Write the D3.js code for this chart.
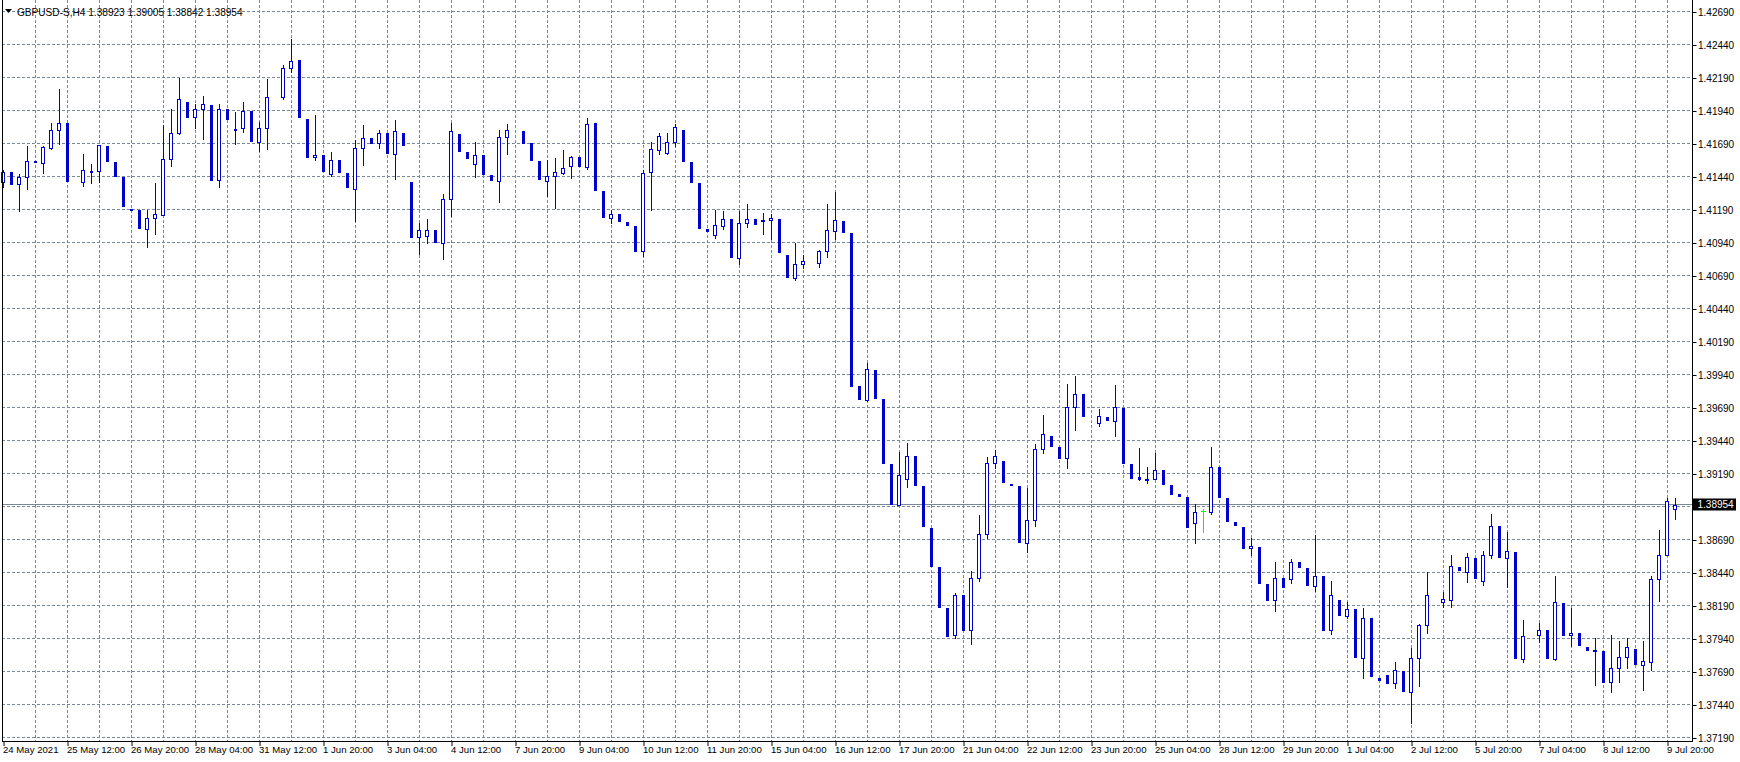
<!DOCTYPE html>
<html><head><meta charset="utf-8">
<script src="https://cdn.jsdelivr.net/npm/d3@7"></script>
<style>html,body{margin:0;padding:0;background:#fff;overflow:hidden}
text{font-family:"Liberation Sans",Arial,sans-serif}</style>
</head><body>
<svg id="chart" width="1740" height="762"></svg>
<script>
const titleText = "GBPUSD-S,H4  1.38923 1.39005 1.38842 1.38954";
const opens = [
1.41400,1.41471,1.41380,1.41433,1.41556,1.41539,1.41658,1.41796,1.41844,null,
1.41395,1.41485,1.41483,1.41670,1.41549,1.41435,1.41196,1.41185,1.41046,1.41122,
1.41152,1.41569,1.41766,1.42003,1.41892,1.41948,1.41981,1.41410,1.41950,1.41801,
1.41811,1.41935,1.41705,1.41804,null,1.42043,1.42263,1.42321,1.41879,1.41584,
1.41601,1.41462,1.41563,1.41465,1.41349,1.41659,1.41728,1.41690,1.41768,1.41614,
1.41768,1.41397,1.40978,1.40993,1.41031,1.40937,1.41266,1.41765,1.41624,1.41531,
1.41601,1.41450,1.41409,1.41743,null,1.41783,1.41694,1.41556,1.41409,1.41440,
1.41470,1.41516,1.41585,1.41514,1.41846,1.41329,1.41126,1.41154,1.41094,1.41063,
1.40873,1.41475,1.41642,1.41619,1.41705,1.41796,1.41548,1.41389,1.41040,1.40998,
1.41068,1.41115,1.40823,1.41084,1.41115,1.41107,1.41107,1.41120,1.40849,1.40672,
1.40774,null,1.40781,1.40873,1.41024,1.41102,1.41011,1.39853,1.39748,1.39973,
1.39753,1.39261,1.38955,1.39152,1.39326,1.39094,1.38776,1.38480,1.38172,1.37963,
1.38268,1.38001,1.38402,1.38735,1.39273,1.39283,1.39114,1.39094,1.38667,1.38834,
1.39379,1.39473,1.39389,1.39304,1.39690,1.39791,null,1.39576,1.39617,1.39591,
1.39685,1.39261,1.39162,1.39137,1.39152,1.39215,1.39101,1.39032,1.39010,1.38816,
1.38900,1.38899,1.39237,1.39003,1.38821,1.38783,1.38622,1.38632,1.38352,1.38228,
1.38395,1.38387,1.38518,1.38473,1.38334,1.38412,1.38001,1.38230,1.38112,1.38162,
1.37796,1.38094,1.37640,1.37662,1.37604,1.37693,1.37536,1.37796,1.38039,null,
1.38220,1.38230,1.38483,1.38447,1.38553,1.38372,1.38574,1.38791,1.38553,1.38596,
1.37788,null,1.37963,1.38003,1.37783,1.38208,1.37963,1.37980,1.37879,1.37846,
1.37844,1.37607,1.37720,1.37801,1.37859,1.37743,1.37763,1.38394,1.38574,1.38923];
const highs = [
1.41493,1.41471,1.41458,1.41670,1.41556,1.41670,1.41844,1.42102,1.41844,null,
1.41609,1.41534,1.41675,1.41670,1.41549,1.41435,1.41196,1.41185,1.41185,1.41387,
1.41829,1.41950,1.42188,1.42003,1.41986,1.42049,1.41981,1.41986,1.41950,1.41928,
1.42003,1.41935,1.41854,1.42178,null,1.42283,1.42480,1.42321,1.41879,1.41909,
1.41601,1.41624,1.41563,1.41465,1.41715,1.41829,1.41728,1.41791,1.41768,1.41866,
1.41768,1.41397,1.41084,1.41117,1.41031,1.41311,1.41849,1.41765,1.41624,1.41700,
1.41601,1.41450,1.41796,1.41841,null,1.41783,1.41694,1.41556,1.41566,1.41579,
1.41639,1.41596,1.41585,1.41880,1.41846,1.41329,1.41183,1.41154,1.41094,1.41063,
1.41491,1.41705,1.41773,1.41773,1.41835,1.41796,1.41548,1.41389,1.41040,1.41183,
1.41175,1.41115,1.41175,1.41230,1.41115,1.41162,1.41157,1.41120,1.40849,1.40940,
1.40849,null,1.40886,1.41230,1.41324,1.41102,1.41011,1.39853,1.40025,1.39973,
1.39753,1.39261,1.39352,1.39420,1.39326,1.39094,1.38776,1.38480,1.38172,1.38286,
1.38268,1.38450,1.38874,1.39314,1.39367,1.39283,1.39114,1.39094,1.39081,1.39412,
1.39632,1.39473,1.39389,1.39867,1.39927,1.39791,null,1.39682,1.39617,1.39859,
1.39685,1.39261,1.39382,1.39238,1.39349,1.39215,1.39101,1.39032,1.39010,1.38957,
1.38924,1.39389,1.39237,1.39003,1.38821,1.38783,1.38705,1.38632,1.38352,1.38518,
1.38395,1.38539,1.38518,1.38473,1.38723,1.38412,1.38374,1.38230,1.38213,1.38162,
1.38170,1.38094,1.37640,1.37662,1.37761,1.37693,1.37869,1.38049,1.38443,null,
1.38291,1.38571,1.38483,1.38584,1.38553,1.38604,1.38884,1.38791,1.38748,1.38596,
1.38079,null,1.38059,1.38003,1.38412,1.38208,1.38170,1.37980,1.37879,1.37940,
1.37844,1.37965,1.37920,1.37940,1.37859,1.37920,1.38412,1.38760,1.39003,1.39005];
const lows = [
1.41357,1.41380,1.41180,1.41342,1.41552,1.41468,1.41645,1.41683,1.41407,null,
1.41370,1.41392,1.41402,1.41559,1.41445,1.41218,1.41190,1.41051,1.40907,1.41001,
1.41148,1.41519,1.41760,1.41892,1.41809,1.41721,1.41415,1.41357,1.41877,1.41688,
1.41774,1.41710,1.41635,1.41652,null,1.42030,1.42232,1.41892,1.41589,1.41563,
1.41483,1.41445,1.41475,1.41361,1.41101,1.41528,1.41690,1.41657,1.41619,1.41422,
1.41680,1.40983,1.40854,1.40937,1.40945,1.40816,1.41142,1.41634,1.41579,1.41437,
1.41460,1.41412,1.41248,1.41611,null,1.41695,1.41566,1.41422,1.41291,1.41202,
1.41457,1.41430,1.41522,1.41499,1.41337,1.41131,1.41089,1.41105,1.41074,1.40875,
1.40836,1.41188,1.41611,1.41611,1.41673,1.41559,1.41397,1.41050,1.41029,1.40974,
1.41042,1.40831,1.40779,1.41058,1.41081,1.41006,1.40967,1.40870,1.40680,1.40659,
1.40745,null,1.40755,1.40831,1.40967,1.41021,1.39855,1.39756,1.39740,1.39763,
1.39271,1.38960,1.38950,1.39089,1.39104,1.38794,1.38491,1.38180,1.37960,1.37940,
1.38006,1.37902,1.38377,1.38703,1.39233,1.39127,1.39104,1.38672,1.38592,1.38794,
1.39347,1.39400,1.39309,1.39233,1.39521,1.39627,null,1.39551,1.39597,1.39475,
1.39271,1.39157,1.39142,1.39119,1.39150,1.39111,1.39035,1.39020,1.38783,1.38660,
1.38748,1.38884,1.39013,1.38831,1.38801,1.38627,1.38571,1.38362,1.38233,1.38150,
1.38331,1.38362,1.38483,1.38347,1.38301,1.38006,1.37975,1.38119,1.38097,1.37801,
1.37642,1.37657,1.37627,1.37604,1.37566,1.37544,1.37301,1.37582,1.37983,null,
1.38175,1.38175,1.38457,1.38369,1.38402,1.38346,1.38551,1.38558,1.38329,1.37793,
1.37763,null,1.37915,1.37793,1.37778,1.37968,1.37882,1.37889,1.37851,1.37586,
1.37609,1.37536,1.37609,1.37718,1.37745,1.37548,1.37703,1.38225,1.38570,1.38842];
const closes = [
1.41476,1.41380,1.41433,1.41561,1.41552,1.41660,1.41796,1.41849,1.41407,null,
1.41493,1.41481,1.41675,1.41559,1.41445,1.41218,1.41190,1.41051,1.41122,1.41155,
1.41569,1.41766,1.42024,1.41892,1.41948,1.41986,1.41415,1.41955,1.41877,1.41797,
1.41940,1.41710,1.41804,1.42046,null,1.42265,1.42318,1.41892,1.41589,1.41606,
1.41483,1.41568,1.41475,1.41361,1.41659,1.41735,1.41690,1.41773,1.41619,1.41781,
1.41680,1.40983,1.41038,1.41038,1.40945,1.41266,1.41781,1.41634,1.41579,1.41606,
1.41460,1.41412,1.41743,1.41796,null,1.41695,1.41566,1.41422,1.41442,1.41473,
1.41508,1.41584,1.41522,1.41840,1.41337,1.41131,1.41154,1.41105,1.41074,1.40875,
1.41470,1.41645,1.41749,1.41705,1.41812,1.41559,1.41397,1.41050,1.41029,1.41076,
1.41120,1.40831,1.41084,1.41120,1.41081,1.41108,1.41128,1.40870,1.40680,1.40774,
1.40797,null,1.40873,1.41032,1.41107,1.41021,1.39855,1.39756,1.39978,1.39763,
1.39271,1.38960,1.39177,1.39326,1.39104,1.38794,1.38491,1.38180,1.37960,1.38273,
1.38006,1.38402,1.38735,1.39273,1.39326,1.39127,1.39104,1.38672,1.38834,1.39379,
1.39493,1.39400,1.39309,1.39690,1.39796,1.39627,null,1.39622,1.39597,1.39690,
1.39271,1.39157,1.39152,1.39152,1.39220,1.39111,1.39035,1.39020,1.38783,1.38900,
1.38900,1.39243,1.39013,1.38831,1.38801,1.38627,1.38637,1.38362,1.38233,1.38402,
1.38331,1.38523,1.38483,1.38347,1.38417,1.38006,1.38273,1.38119,1.38167,1.37801,
1.38099,1.37657,1.37627,1.37604,1.37698,1.37544,1.37796,1.38039,1.38273,null,
1.38238,1.38490,1.38457,1.38558,1.38402,1.38569,1.38796,1.38558,1.38601,1.37793,
1.37958,null,1.38008,1.37793,1.38213,1.37968,1.37980,1.37889,1.37851,1.37851,
1.37609,1.37720,1.37801,1.37872,1.37745,1.37766,1.38394,1.38576,1.38985,1.38954];
const timeLabels = ["24 May 2021","25 May 12:00","26 May 20:00","28 May 04:00","31 May 12:00",
"1 Jun 20:00","3 Jun 04:00","4 Jun 12:00","7 Jun 20:00","9 Jun 04:00","10 Jun 12:00",
"11 Jun 20:00","15 Jun 04:00","16 Jun 12:00","17 Jun 20:00","21 Jun 04:00","22 Jun 12:00",
"23 Jun 20:00","25 Jun 04:00","28 Jun 12:00","29 Jun 20:00","1 Jul 04:00","2 Jul 12:00",
"5 Jul 20:00","7 Jul 04:00","8 Jul 12:00","9 Jul 20:00"];
const barsPerLabel = 8;
const barsPerGrid = 4;
const priceTicks = [1.42690,1.42440,1.42190,1.41940,1.41690,1.41440,1.41190,1.40940,1.40690,
1.40440,1.40190,1.39940,1.39690,1.39440,1.39190,1.38940,1.38690,1.38440,1.38190,1.37940,
1.37690,1.37440,1.37190];
const lastPrice = 1.38954;

(function () {
const BLUE = "#0000CD", GRID = "#778899", DOJI = "#00FF00";
const svg = d3.select("#chart");
const n = opens.length;
const pLeft = 2, pRight = 1692, pTop = 0, pBottom = 741;
const x = d3.scaleLinear().domain([0, n - 1]).range([3.5, 3.5 + 8 * (n - 1)]);
const y = d3.scaleLinear().domain([1.37190, 1.42690]).range([737.5, 11.5]);
const py = v => Math.round(y(v) - 0.5) + 0.5;

svg.append("rect").attr("width", 1740).attr("height", 762).attr("fill", "#fff");

// grid
const g = svg.append("g");
g.selectAll("line.h").data(priceTicks).join("line").attr("class", "h")
  .attr("x1", pLeft).attr("x2", pRight).attr("y1", d => py(d)).attr("y2", d => py(d))
  .attr("stroke", GRID).attr("stroke-dasharray", "3,2");
const gridBars = d3.range(barsPerGrid, n, barsPerGrid);
g.selectAll("line.v").data(gridBars).join("line").attr("class", "v")
  .attr("x1", d => x(d)).attr("x2", d => x(d)).attr("y1", pTop).attr("y2", pBottom)
  .attr("stroke", GRID).attr("stroke-dasharray", "3,2");

// last price line
svg.append("line").attr("x1", pLeft).attr("x2", pRight)
  .attr("y1", py(lastPrice)).attr("y2", py(lastPrice)).attr("stroke", GRID);

// candles
const bars = d3.range(n).filter(i => opens[i] !== null).map(i => ({
  i, o: opens[i], h: highs[i], l: lows[i], c: closes[i]
}));
const cg = svg.append("g");
bars.forEach(b => {
  const cx = x(b.i);
  const col = b.o === b.c ? DOJI : BLUE;
  cg.append("line").attr("x1", cx).attr("x2", cx)
    .attr("y1", Math.round(y(b.h))).attr("y2", Math.round(y(b.l)) + 1)
    .attr("stroke", col);
  if (b.o === b.c) {
    cg.append("line").attr("x1", cx - 2.5).attr("x2", cx + 2.5)
      .attr("y1", py(b.o)).attr("y2", py(b.o)).attr("stroke", col);
  } else if (b.c > b.o) {
    const yt = Math.round(y(b.c)), yb = Math.round(y(b.o));
    cg.append("rect").attr("x", cx - 2).attr("width", 3)
      .attr("y", yt + 0.5).attr("height", Math.max(1, yb - yt))
      .attr("fill", "#fff").attr("stroke", BLUE);
  } else {
    const yt = Math.round(y(b.o)), yb = Math.round(y(b.c));
    cg.append("rect").attr("x", cx - 1.5).attr("width", 3)
      .attr("y", yt).attr("height", Math.max(2, yb - yt + 1))
      .attr("fill", BLUE);
  }
});

// frame
svg.append("line").attr("x1", pLeft + 0.5).attr("x2", pLeft + 0.5).attr("y1", 0).attr("y2", pBottom).attr("stroke", "#000");
svg.append("line").attr("x1", pRight + 0.5).attr("x2", pRight + 0.5).attr("y1", 0).attr("y2", pBottom).attr("stroke", "#000");
svg.append("line").attr("x1", pLeft).attr("x2", pRight + 1).attr("y1", pBottom + 0.5).attr("y2", pBottom + 0.5).attr("stroke", "#000");

// right price axis
const shown = priceTicks.filter(v => Math.abs(y(v) - y(lastPrice)) > 9);
const ya = d3.axisRight(y).tickValues(shown).tickFormat(d3.format(".5f")).tickSize(4).tickSizeOuter(0);
const yag = svg.append("g").attr("transform", `translate(${pRight + 0.5},0.5)`).call(ya);
yag.select(".domain").remove();
yag.selectAll("line").attr("stroke", "#000");
yag.selectAll("text").attr("font-size", 10).attr("fill", "#000").attr("x", 5.5)
  .attr("font-family", "Liberation Sans, Arial, sans-serif");

// last price label
const ly = py(lastPrice);
svg.append("rect").attr("x", pRight + 1).attr("y", ly - 6).attr("width", 43).attr("height", 12).attr("fill", "#000");
svg.append("text").attr("x", pRight + 5.5).attr("y", ly + 3.5).attr("fill", "#fff")
  .attr("font-size", 10).text(d3.format(".5f")(lastPrice));

// bottom time axis
const labelBars = timeLabels.map((t, k) => k * barsPerLabel);
const xa = d3.axisBottom(x).tickValues(labelBars).tickFormat(d => timeLabels[d / barsPerLabel])
  .tickSize(4).tickSizeOuter(0);
const xag = svg.append("g").attr("transform", `translate(0,${pBottom + 1})`).call(xa);
xag.select(".domain").remove();
xag.selectAll("line").attr("stroke", "#000");
xag.selectAll("text").attr("font-size", 9.6).attr("fill", "#000")
  .attr("text-anchor", "start").attr("dx", -1).attr("y", 4).attr("dy", "0.71em")
  .attr("font-family", "Liberation Sans, Arial, sans-serif");

// title
svg.append("path").attr("d", "M5,9 L12,9 L8.5,13 Z").attr("fill", "#000");
svg.append("text").attr("x", 17).attr("y", 15.5).attr("font-size", 10.1).attr("fill", "#000").text(titleText);
})();
</script>
</body></html>
